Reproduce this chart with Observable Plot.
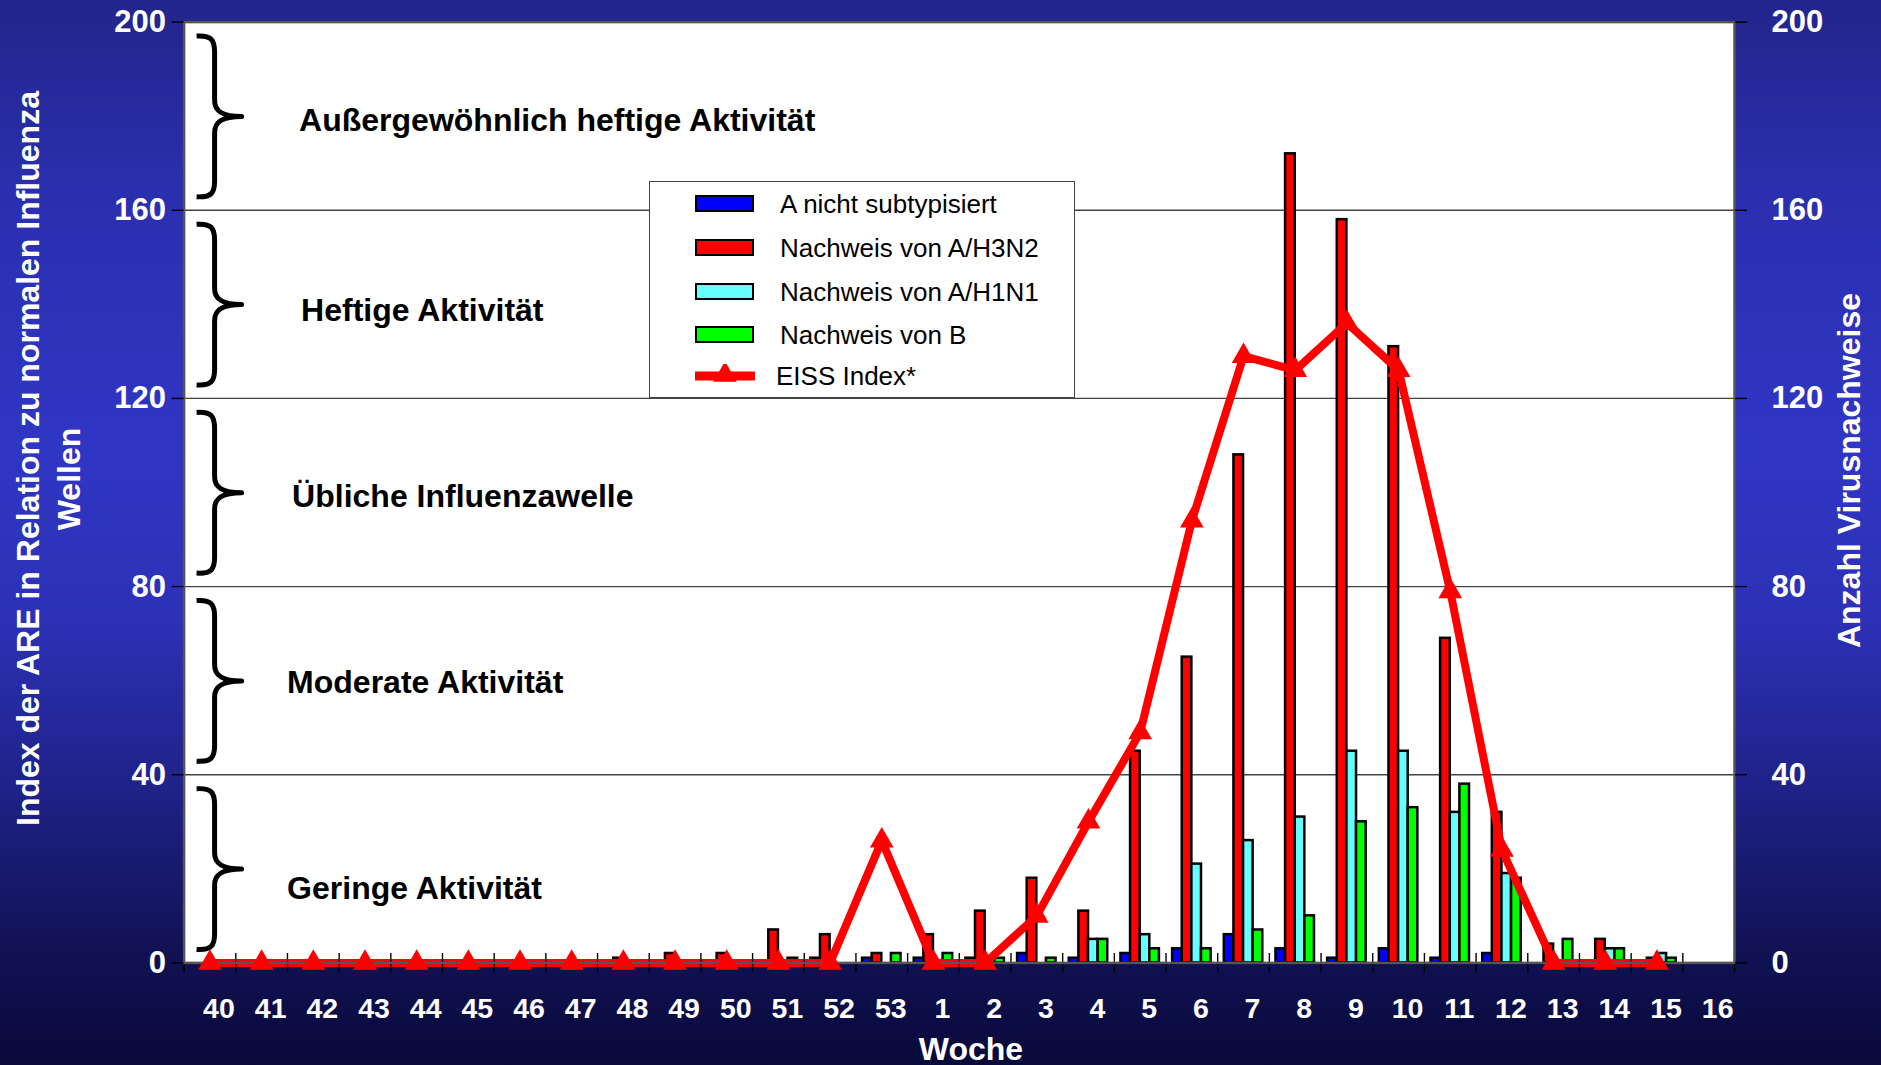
<!DOCTYPE html>
<html>
<head>
<meta charset="utf-8">
<script src="https://cdn.jsdelivr.net/npm/d3@7"></script>
<script src="https://cdn.jsdelivr.net/npm/@observablehq/plot@0.6"></script>
<style>
html, body { margin: 0; padding: 0; }
body {
  width: 1881px; height: 1065px; overflow: hidden;
  background: linear-gradient(180deg, #22258a 0%, #2a2fae 18%, #3036c4 42%, #2c31b6 58%, #1f2288 74%, #121358 88%, #09093a 100%);
  font-family: "Liberation Sans", Arial, sans-serif;
}
#chart { position: relative; width: 1881px; height: 1065px; }
#chart > svg { position: absolute; left: 0; top: 0; }
.legend {
  position: absolute; left: 649px; top: 181px; width: 424px; height: 215px;
  background: #fff; border: 1.5px solid #444; box-sizing: content-box;
}
.legend .sw { position: absolute; left: 45px; width: 55px; height: 13px; border: 2.5px solid #000; }
.legend .txt { position: absolute; left: 130px; font-size: 26px; line-height: 30px; color: #000; white-space: nowrap; }
.legend svg.sym { position: absolute; left: 45px; }
</style>
</head>
<body>
<div id="chart"></div>
<script>
// ---------------- data ----------------
const weeks = ["40","41","42","43","44","45","46","47","48","49","50","51","52","53",
               "1","2","3","4","5","6","7","8","9","10","11","12","13","14","15","16"];
const aNichtSubtypisiert = [0,0,0,0,0,0,0,0,0,0,0,0,1,1,
                            1,1,2,1,2,3,6,3,1,3,1,2,0,0,0,0];
const nachweisH3N2 = [0,0,0,0,0,0,0,0,1,2,2,7,6,2,
                      6,11,18,11,45,65,108,172,158,131,69,32,4,5,1,0];
const nachweisH1N1 = [0,0,0,0,0,0,0,0,0,0,0,0,0,0,
                      0,0,0,5,6,21,26,31,45,45,32,19,0,3,2,0];
const nachweisB = [0,0,0,0,0,0,0,0,0,0,0,1,0,2,
                   2,1,1,5,3,3,7,10,30,33,38,18,5,3,1,0];
const eissIndex = [0,0,0,0,0,0,0,0,0,0,0,0,0,26,
                   0,0,10,30,49,94,129,126,136,126,79,24,0,0,0,null];
const seriesNames = ["A nicht subtypisiert","Nachweis von A/H3N2","Nachweis von A/H1N1","Nachweis von B"];
const eissName = "EISS Index*";
const yTicks = [0,40,80,120,160,200];
const activityLabels = ["Geringe Aktivität","Moderate Aktivität","Übliche Influenzawelle","Heftige Aktivität","Außergewöhnlich heftige Aktivität"];
const activityBounds = [0,40,80,120,160,200];
const activityLabelValue = [15.7,59.5,99,138.7,179];
const leftTitle = ["Index der ARE in Relation zu normalen Influenza","Wellen"];
const rightTitle = "Anzahl Virusnachweise";
const xTitle = "Woche";

// ---------------- styles / layout ----------------
const seriesColors = ["#0000ff","#ff0000","#66ffff","#00ff00"];
const W = 1881, H = 1065;
const mL = 183.6, mR = 147, mT = 21.6, mB = 102.6;
const bw = (W - mL - mR) / weeks.length;
const groupPad = 6.6, barW = (bw - 2 * groupPad) / 4;
const labelIndent = [103, 103, 108, 117, 115];
const triR = 8.8;
const FONT = "'Liberation Sans', Arial, Helvetica, sans-serif";

// ---------------- tables ----------------
const seriesValues = [aNichtSubtypisiert, nachweisH3N2, nachweisH1N1, nachweisB];
const barRows = [];
seriesValues.forEach((vals, k) => {
  weeks.forEach((w, i) => { if (vals[i] > 0) barRows.push({week: w, series: seriesNames[k], k, value: vals[i]}); });
});
const eissRows = weeks.map((w, i) => ({week: w, value: eissIndex[i]})).filter(d => d.value != null);
const bands = activityLabels.map((label, i) => ({label, lo: activityBounds[i], hi: activityBounds[i + 1], yl: activityLabelValue[i]}));

// brace mark drawn through the y scale
function braceMark(index, scales) {
  const y = scales.y;
  const g = d3.create("svg:g");
  const L = mL + 13, S = mL + 31, T = mL + 58;
  for (const b of bands) {
    const yt = y(b.hi) + 14.5, yb = y(b.lo) - 13, ym = (yt + yb) / 2;
    const d = `M${L},${yt} C${S-3},${yt-1} ${S},${yt+4} ${S},${yt+16} L${S},${ym-16} C${S},${ym-5} ${S+8},${ym} ${T},${ym} C${S+8},${ym} ${S},${ym+5} ${S},${ym+16} L${S},${yb-16} C${S},${yb-4} ${S-3},${yb+1} ${L},${yb}`;
    g.append("path").attr("d", d).attr("fill", "none").attr("stroke", "#000").attr("stroke-width", 5).attr("stroke-linejoin", "round");
  }
  return g.node();
}

const barMarks = seriesNames.map((name, k) => Plot.barY(barRows.filter(d => d.k === k), {
  x: "week", y: "value", fill: seriesColors[k], stroke: "#000", strokeWidth: 2.5,
  insetLeft: groupPad + barW * k, insetRight: bw - groupPad - barW * (k + 1)
}));

const labelMarks = bands.map((b, i) => Plot.text([b], {
  y: "yl", text: "label", frameAnchor: "left", textAnchor: "start", dx: labelIndent[i],
  fontSize: 32, fontWeight: "bold", fill: "#000"
}));

const svg = Plot.plot({
  width: W, height: H,
  marginLeft: mL, marginRight: mR, marginTop: mT, marginBottom: mB,
  style: {background: "transparent", fontFamily: FONT, overflow: "visible"},
  x: {type: "band", domain: weeks, padding: 0, round: false},
  y: {domain: [0, 200]},
  marks: [
    Plot.frame({fill: "#fff", stroke: "none"}),
    Plot.ruleY(yTicks.filter(t => t > 0 && t < 200), {stroke: "#444", strokeWidth: 1.4}),
    braceMark,
    ...labelMarks,
    ...barMarks,
    Plot.line(eissRows, {x: "week", y: "value", stroke: "#ff0000", strokeWidth: 8, strokeLinejoin: "miter", strokeMiterlimit: 6}),
    Plot.ruleX(weeks, {x: d => d, y1: -2.1, y2: 2, dx: -bw / 2, stroke: "#000", strokeWidth: 1.4}),
    Plot.ruleX(weeks.slice(-1), {x: d => d, y1: -2.1, y2: 2, dx: bw / 2, stroke: "#000", strokeWidth: 1.4}),
    Plot.frame({stroke: "#555", strokeWidth: 2.5}),
    Plot.dot(eissRows, {x: "week", y: "value", symbol: "triangle", r: triR, fill: "#ff0000", stroke: "none"}),
    Plot.axisY({anchor: "left", ticks: yTicks, tickSize: 12, tickPadding: 6, fontSize: 31, fontWeight: "bold", fill: "#fff", stroke: "#000", strokeWidth: 1.4, label: null}),
    Plot.axisY({anchor: "right", ticks: yTicks, tickSize: 12, tickPadding: 25, fontSize: 31, fontWeight: "bold", fill: "#fff", stroke: "#000", strokeWidth: 1.4, label: null}),
    Plot.axisX({anchor: "bottom", tickSize: 0, tickPadding: 35, fontSize: 28.5, fontWeight: "bold", fill: "#fff", dx: 9, label: null})
  ]
});

// axis titles
const s = d3.select(svg);
const titleStyle = sel => sel.attr("fill", "#fff").attr("font-weight", "bold").attr("font-size", 32).attr("font-family", FONT).attr("text-anchor", "middle");
s.append("text").call(titleStyle).attr("transform", "translate(39.3,458.5) rotate(-90)").text(leftTitle[0]);
s.append("text").call(titleStyle).attr("transform", "translate(80,479) rotate(-90)").text(leftTitle[1]);
s.append("text").call(titleStyle).attr("transform", "translate(1860,470.5) rotate(-90)").text(rightTitle);
s.append("text").call(titleStyle).attr("x", 971).attr("y", 1060).text(xTitle);

const chart = document.getElementById("chart");
chart.appendChild(svg);

// legend
const legend = document.createElement("div");
legend.className = "legend";
const rowCenters = [21.8, 65.5, 109.5, 152.8, 193.5];
seriesNames.forEach((name, k) => {
  const sw = document.createElement("div");
  sw.className = "sw";
  sw.style.top = (rowCenters[k] - 9) + "px";
  sw.style.background = seriesColors[k];
  legend.appendChild(sw);
  const t = document.createElement("div");
  t.className = "txt";
  t.style.top = (rowCenters[k] - 15) + "px";
  t.textContent = name;
  legend.appendChild(t);
});
{
  const c = rowCenters[4];
  const sym = d3.create("svg").attr("class", "sym").attr("width", 62).attr("height", 24).style("top", (c - 12) + "px");
  sym.append("line").attr("x1", 0).attr("x2", 60).attr("y1", 12).attr("y2", 12).attr("stroke", "#ff0000").attr("stroke-width", 9);
  sym.append("path").attr("d", d3.symbol(d3.symbolTriangle, Math.PI * triR * triR)()).attr("transform", "translate(30,11)").attr("fill", "#ff0000");
  legend.appendChild(sym.node());
  const t = document.createElement("div");
  t.className = "txt";
  t.style.top = (c - 15) + "px";
  t.style.left = "126px";
  t.textContent = eissName;
  legend.appendChild(t);
}
chart.appendChild(legend);
</script>
</body>
</html>
